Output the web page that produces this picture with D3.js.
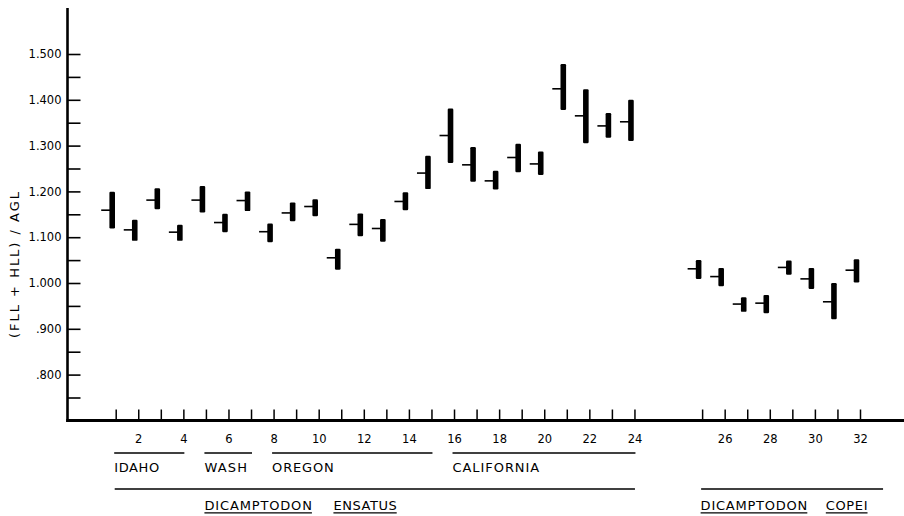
<!DOCTYPE html>
<html>
<head>
<meta charset="utf-8">
<script src="https://cdn.jsdelivr.net/npm/d3@7/dist/d3.min.js"></script>
<style>
  html, body { margin: 0; padding: 0; background: #fff; }
  svg { display: block; font-family: "DejaVu Sans", sans-serif; }
</style>
</head>
<body>
<svg id="chart" width="904" height="516"></svg>
<script>
// ---- data ----
const sampleIds = [1,2,3,4,5,6,7,8,9,10,11,12,13,14,15,16,17,18,19,20,21,22,23,24,25,26,27,28,29,30,31,32];
const means = [1.159,1.116,1.181,1.111,1.181,1.132,1.180,1.112,1.153,1.167,1.055,1.128,1.119,1.178,1.240,1.322,
               1.258,1.223,1.274,1.260,1.424,1.365,1.343,1.352,1.031,1.014,0.954,0.956,1.034,1.009,0.959,1.028];
const highs = [1.199,1.138,1.207,1.127,1.212,1.151,1.200,1.130,1.176,1.183,1.075,1.152,1.140,1.198,1.278,1.381,
               1.297,1.245,1.304,1.287,1.478,1.423,1.371,1.400,1.050,1.033,0.969,0.974,1.049,1.033,1.000,1.052];
const lows  = [1.119,1.092,1.161,1.092,1.154,1.111,1.157,1.089,1.135,1.146,1.029,1.102,1.090,1.159,1.205,1.262,
               1.221,1.204,1.242,1.236,1.378,1.305,1.317,1.310,1.009,0.993,0.937,0.934,1.018,0.987,0.921,1.001];
const yTickValues = [0.75,0.8,0.85,0.9,0.95,1.0,1.05,1.1,1.15,1.2,1.25,1.3,1.35,1.4,1.45,1.5];
const yTickLabels = {"0.8":".800","0.9":".900","1":"1.000","1.1":"1.100","1.2":"1.200","1.3":"1.300","1.4":"1.400","1.5":"1.500"};
const xLabelIds = [2,4,6,8,10,12,14,16,18,20,22,24,26,28,30,32];
const regionNames = ["IDAHO","WASH","OREGON","CALIFORNIA"];
const regionStart = [1,5,8,16];
const regionEnd   = [4,7,15,24];
const speciesGenus   = ["DICAMPTODON","DICAMPTODON"];
const speciesEpithet = ["ENSATUS","COPEI"];
const speciesStart = [1,25];
const speciesEnd   = [24,33];
const speciesTextStart = [5,25];
const yTitle = "(FLL + HLL) / AGL";

// ---- layout ----
const svg = d3.select("#chart");
svg.append("rect").attr("width",904).attr("height",516).attr("fill","#fff");

const slotOf = id => id <= 24 ? id : id + 2;   // gap between the two species
const xs = d3.scaleLinear().domain([1,34]).range([115.7,860]);
const x = id => xs(slotOf(id));
const y = d3.scaleLinear().domain([0.7,1.6]).range([420.4,8.2]);
const axisX = 67.5, axisY = 420.5;

// y axis
const yAxis = d3.axisLeft(y).tickValues(yTickValues).tickSizeInner(-13).tickSizeOuter(0).tickPadding(6)
  .tickFormat(v => yTickLabels[String(+v.toFixed(2))] || "");
const gy = svg.append("g").attr("transform",`translate(${axisX},0)`).call(yAxis);
gy.select(".domain").remove();
gy.selectAll(".tick line").attr("stroke","#000").attr("stroke-width",1.6);
gy.selectAll(".tick text").attr("font-size",11.5).attr("fill","#000").attr("font-family","DejaVu Sans");
svg.append("line").attr("x1",axisX).attr("x2",axisX).attr("y1",8).attr("y2",axisY+1.5)
  .attr("stroke","#000").attr("stroke-width",2.6);

// x axis
const xAxis = d3.axisBottom(xs).tickValues(sampleIds.map(slotOf)).tickSizeInner(-11).tickSizeOuter(0).tickPadding(14)
  .tickFormat((s,i) => xLabelIds.includes(sampleIds[i]) ? String(sampleIds[i]) : "");
const gx = svg.append("g").attr("transform",`translate(0,${axisY})`).call(xAxis);
gx.select(".domain").remove();
gx.selectAll(".tick line").attr("stroke","#000").attr("stroke-width",1.5);
gx.selectAll(".tick text").attr("font-size",11.5).attr("fill","#000").attr("font-family","DejaVu Sans");
svg.append("line").attr("x1",axisX-1.3).attr("x2",904).attr("y1",axisY).attr("y2",axisY)
  .attr("stroke","#000").attr("stroke-width",2.8);

// y title
svg.append("text").attr("transform","translate(18.5,265) rotate(-90)")
  .attr("text-anchor","middle").attr("font-size",13).attr("textLength",146).attr("lengthAdjust","spacing")
  .text(yTitle);

// data marks
const barOff = -3.5, barW = 5.6, meanLen = 11;
const pts = sampleIds.map((id,i) => ({id, m: means[i], hi: highs[i], lo: lows[i]}));
svg.append("g").selectAll("rect").data(pts).join("rect")
  .attr("x", d => x(d.id) + barOff - barW/2)
  .attr("width", barW)
  .attr("y", d => y(d.hi))
  .attr("height", d => y(d.lo) - y(d.hi))
  .attr("rx", 1.2)
  .attr("fill","#000");
svg.append("g").selectAll("line").data(pts).join("line")
  .attr("x1", d => x(d.id) + barOff - meanLen)
  .attr("x2", d => x(d.id) + barOff)
  .attr("y1", d => y(d.m)).attr("y2", d => y(d.m))
  .attr("stroke","#000").attr("stroke-width",1.6);

// region lines + labels
const regionWidths = [45,42.7,61.7,86.7];
regionNames.forEach((name,i) => {
  svg.append("line").attr("x1",x(regionStart[i])-1.5).attr("x2",x(regionEnd[i])+1)
    .attr("y1",453).attr("y2",453).attr("stroke","#000").attr("stroke-width",1.5);
  svg.append("text").attr("x",x(regionStart[i])-1.5).attr("y",471.5)
    .attr("font-size",13).attr("textLength",regionWidths[i]).attr("lengthAdjust","spacing")
    .text(name);
});

// species lines + underlined labels
const genusW = [107.5,106.7], epiW = [63.3,41.7], epiGap = [21.5,18.5];
speciesGenus.forEach((g,i) => {
  svg.append("line").attr("x1",x(speciesStart[i])-1).attr("x2",x(speciesEnd[i])+0.5)
    .attr("y1",489).attr("y2",489).attr("stroke","#000").attr("stroke-width",1.5);
  const gx0 = x(speciesTextStart[i]) - 1.5;
  const ex0 = gx0 + genusW[i] + epiGap[i];
  [[g,gx0,genusW[i]],[speciesEpithet[i],ex0,epiW[i]]].forEach(([t,x0,w]) => {
    svg.append("text").attr("x",x0).attr("y",510)
      .attr("font-size",13).attr("textLength",w).attr("lengthAdjust","spacing").text(t);
    svg.append("line").attr("x1",x0).attr("x2",x0+w).attr("y1",512.8).attr("y2",512.8)
      .attr("stroke","#000").attr("stroke-width",1.3);
  });
});
</script>
</body>
</html>
